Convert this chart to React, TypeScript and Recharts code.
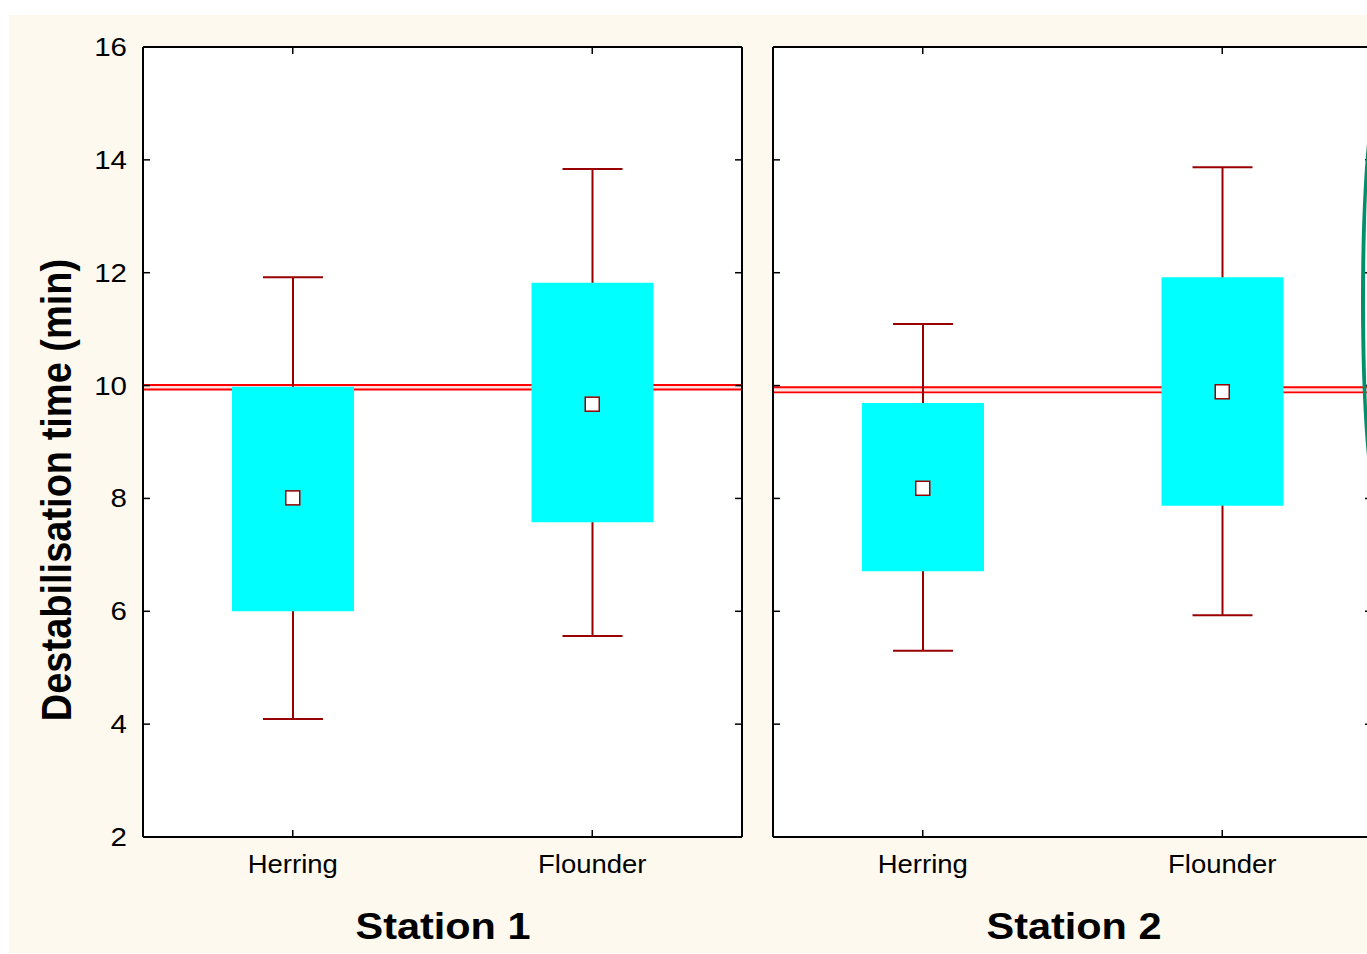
import React from 'react';
import { ComposedChart, Bar, Line, XAxis, YAxis, CartesianGrid, ReferenceArea } from 'recharts';

// ---- data ----
const categories = ['Herring', 'Flounder'];
const yTicks = [2, 4, 6, 8, 10, 12, 14, 16];
const yDomain = [2, 16];

const station1WhiskerLow = [4.09, 5.56];
const station1WhiskerHigh = [11.92, 13.84];
const station1BoxLow = [6.0, 7.58];
const station1BoxHigh = [9.98, 11.82];
const station1Mean = [8.01, 9.67];
const station1RefBand = [9.93, 10.01];

const station2WhiskerLow = [5.3, 5.93];
const station2WhiskerHigh = [11.09, 13.87];
const station2BoxLow = [6.71, 7.87];
const station2BoxHigh = [9.69, 11.92];
const station2Mean = [8.18, 9.89];
const station2RefBand = [9.88, 9.97];

const stationTitles = ['Station 1', 'Station 2'];
const yAxisTitle = 'Destabilisation time (min)';

// ---- styles ----
const FONT = '"Liberation Sans", Arial, Helvetica, sans-serif';
const CREAM = '#fdf9ef';
const BOX = '#00ffff';
const WHISKER = '#990000';
const REF = '#ff0000';

function buildData(wl: number[], wh: number[], bl: number[], bh: number[], mean: number[]) {
  return categories.map((cat, i) => ({
    cat,
    whisker: [wl[i], wh[i]],
    box: [bl[i], bh[i]],
    mean: mean[i],
  }));
}

const data1 = buildData(station1WhiskerLow, station1WhiskerHigh, station1BoxLow, station1BoxHigh, station1Mean);
const data2 = buildData(station2WhiskerLow, station2WhiskerHigh, station2BoxLow, station2BoxHigh, station2Mean);

const YTick = (props: any) => {
  const { x, y, payload } = props;
  return (
    <g transform={`translate(${x},${y})`}>
      <text transform="scale(1.18,1)" textAnchor="end" dy="0.36em" fontSize={25} fontFamily={FONT} fill="#000">
        {payload.value}
      </text>
    </g>
  );
};

const XTick = (props: any) => {
  const { x, y, payload } = props;
  return (
    <g transform={`translate(${x},${y})`}>
      <text transform="scale(1.1,1)" textAnchor="middle" dy="0.71em" fontSize={25} fontFamily={FONT} fill="#000">
        {payload.value}
      </text>
    </g>
  );
};

const WhiskerShape = (props: any) => {
  const { x, y, width, height } = props;
  if (x == null || y == null) return null;
  const cx = x + width / 2;
  return (
    <g>
      <line x1={cx} x2={cx} y1={y} y2={y + height} stroke={WHISKER} strokeWidth={2} />
      <line x1={x} x2={x + width} y1={y} y2={y} stroke={WHISKER} strokeWidth={2} />
      <line x1={x} x2={x + width} y1={y + height} y2={y + height} stroke={WHISKER} strokeWidth={2} />
    </g>
  );
};

const MeanDot = (props: any) => {
  const { cx, cy, index } = props;
  if (cx == null || cy == null) return <g key={`m-${index}`} />;
  return (
    <rect key={`m-${index}`} x={cx - 7} y={cy - 7} width={14} height={14} fill="#ffffff" stroke={WHISKER} strokeWidth={1.5} />
  );
};

const empty = () => '';

function Panel({ data, band, withLabels, width, marginLeft }: any) {
  const meanAxis = withLabels ? 'l' : 'lm';
  return (
    <ComposedChart
      width={width}
      height={880}
      data={data}
      margin={{ top: 32, right: 27, bottom: 18, left: marginLeft }}
    >
      <CartesianGrid xAxisId="b" yAxisId="lm" horizontal={false} vertical={false} fill="#ffffff" fillOpacity={1} />
      <XAxis
        xAxisId="b"
        dataKey="cat"
        type="category"
        orientation="bottom"
        height={40}
        tickLine={false}
        tickSize={0}
        tickMargin={18}
        axisLine={{ stroke: '#000', strokeWidth: 2 }}
        tick={<XTick />}
        interval={0}
      />
      <XAxis
        xAxisId="bm"
        dataKey="cat"
        type="category"
        orientation="bottom"
        mirror
        tickSize={7}
        tickLine={{ stroke: '#000', strokeWidth: 1.5 }}
        axisLine={false}
        tickFormatter={empty}
        interval={0}
      />
      <XAxis
        xAxisId="t"
        dataKey="cat"
        type="category"
        orientation="top"
        mirror
        tickSize={7}
        tickLine={{ stroke: '#000', strokeWidth: 1.5 }}
        axisLine={{ stroke: '#000', strokeWidth: 2 }}
        tickFormatter={empty}
        interval={0}
      />
      {withLabels && (
        <YAxis
          yAxisId="l"
          type="number"
          domain={yDomain}
          ticks={yTicks}
          width={100}
          orientation="left"
          tickLine={false}
          tickSize={0}
          tickMargin={16}
          axisLine={false}
          tick={<YTick />}
          interval={0}
        />
      )}
      <YAxis
        yAxisId="lm"
        type="number"
        domain={yDomain}
        ticks={yTicks}
        orientation="left"
        mirror
        tickSize={7}
        tickLine={{ stroke: '#000', strokeWidth: 1.5 }}
        axisLine={{ stroke: '#000', strokeWidth: 2 }}
        tickFormatter={empty}
        interval={0}
      />
      <YAxis
        yAxisId="rm"
        type="number"
        domain={yDomain}
        ticks={yTicks}
        orientation="right"
        mirror
        tickSize={7}
        tickLine={{ stroke: '#000', strokeWidth: 1.5 }}
        axisLine={{ stroke: '#000', strokeWidth: 2 }}
        tickFormatter={empty}
        interval={0}
      />
      <Bar
        xAxisId="t"
        yAxisId="rm"
        dataKey="whisker"
        barSize={60}
        shape={<WhiskerShape />}
        isAnimationActive={false}
      />
      <Bar xAxisId="b" yAxisId="lm" dataKey="box" barSize={122} fill={BOX} isAnimationActive={false} />
      <ReferenceArea
        xAxisId="b"
        yAxisId="lm"
        y1={band[0]}
        y2={band[1]}
        fill="#ffe2e2"
        fillOpacity={1}
        stroke={REF}
        strokeWidth={1.8}
        ifOverflow="visible"
      />
      <Line
        xAxisId="bm"
        yAxisId={meanAxis}
        dataKey="mean"
        stroke="none"
        dot={MeanDot}
        activeDot={false}
        isAnimationActive={false}
      />
    </ComposedChart>
  );
}

export default function App() {
  return (
    <div style={{ position: 'absolute', left: 8, top: 8, width: 1359, height: 946, overflow: 'hidden', fontFamily: FONT }}>
      <div style={{ position: 'absolute', left: 1, top: 7, width: 1358, height: 938, background: CREAM }} />
      <div style={{ position: 'absolute', left: 1, top: 7 }}>
        <Panel data={data1} band={station1RefBand} withLabels width={760} marginLeft={34} />
      </div>
      <div style={{ position: 'absolute', left: 761, top: 7 }}>
        <Panel data={data2} band={station2RefBand} withLabels={false} width={630} marginLeft={4} />
      </div>
      {/* decorative edge of the neighbouring panel */}
      <div
        style={{
          position: 'absolute',
          left: 1353,
          top: 92,
          width: 32,
          height: 400,
          boxSizing: 'border-box',
          border: '4px solid #008f6b',
          borderRadius: '50%',
        }}
      />
      <div
        style={{
          position: 'absolute',
          left: -252,
          top: 457,
          width: 600,
          height: 50,
          lineHeight: '50px',
          textAlign: 'center',
          fontSize: 38,
          fontWeight: 'bold',
          color: '#000',
          transform: 'rotate(-90deg) scaleY(1.12)',
          whiteSpace: 'nowrap',
        }}
      >
        {yAxisTitle}
      </div>
      {stationTitles.map((t, i) => (
        <div
          key={t}
          style={{
            position: 'absolute',
            left: (i === 0 ? 435 : 1066) - 200,
            top: 900,
            width: 400,
            height: 37,
            lineHeight: '37px',
            textAlign: 'center',
            fontSize: 37,
            fontWeight: 'bold',
            color: '#000',
            transform: 'scaleX(1.12)',
            whiteSpace: 'nowrap',
          }}
        >
          {t}
        </div>
      ))}
    </div>
  );
}
